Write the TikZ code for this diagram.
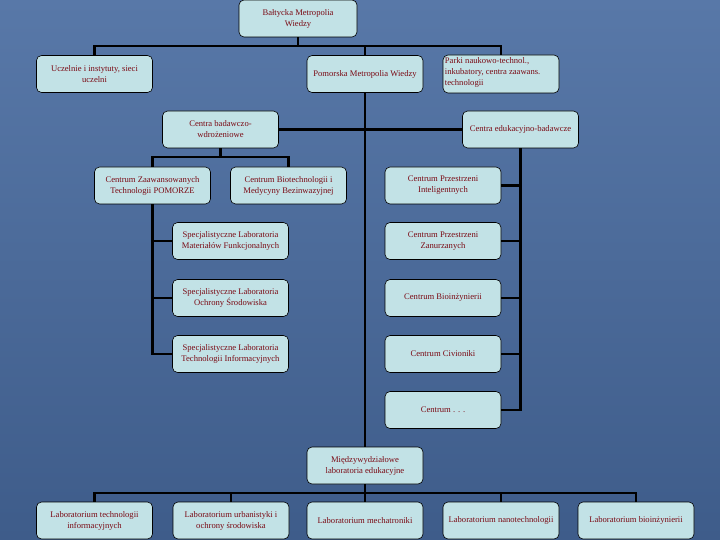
\documentclass[tikz,border=0pt]{standalone}
\usepackage{fontspec}
\setmainfont{Liberation Serif}
\definecolor{bgtop}{HTML}{5878A8}
\definecolor{bgbot}{HTML}{3E5C8A}
\definecolor{boxfill}{HTML}{C2E2E6}
\definecolor{txtred}{HTML}{7A0A14}
\tikzset{
  box/.style={draw=black, line width=0.6pt, rounded corners=5pt, fill=boxfill,
    minimum width=116pt, minimum height=37pt, align=center, inner sep=2pt,
    text=txtred, font=\fontsize{8.6}{11}\selectfont},
  plain/.style={align=left, inner sep=0pt, text=txtred, font=\fontsize{8.6}{11}\selectfont},
  conn/.style={draw=black, line width=2.2pt}
}
\begin{document}
\begin{tikzpicture}[x=1pt,y=-1pt]
\useasboundingbox (0,0) rectangle (720,540);
\shade[top color=bgtop, bottom color=bgbot] (0,0) rectangle (720,540);

% nodes
\node[box, minimum width=118pt] (top) at (298,18.5) {Bałtycka Metropolia\\Wiedzy};
\node[box] (ucz) at (94.5,74) {Uczelnie i instytuty, sieci\\uczelni};
\node[box] (pom) at (365,74) {Pomorska Metropolia Wiedzy};
\node[box, minimum height=38pt] (parki) at (501,74) {};
\node[plain, anchor=north west] (parkitxt) at ([shift={(2,3)}]parki.north west)
  {Parki naukowo-technol.,\\inkubatory, centra zaawans.\\technologii};
\node[box] (cbw) at (220.5,129.5) {Centra badawczo-\\wdrożeniowe};
\node[box] (ceb) at (520.5,129.5) {Centra edukacyjno-badawcze};
\node[box] (cza) at (152.5,185.5) {Centrum Zaawansowanych\\Technologii POMORZE};
\node[box] (cbt) at (288.5,185.5) {Centrum Biotechnologii i\\Medycyny Bezinwazyjnej};
\node[box] (cpi) at (443,185.5) {Centrum Przestrzeni\\Inteligentnych};
\node[box] (sl1) at (230.5,241) {Specjalistyczne Laboratoria\\Materiałów Funkcjonalnych};
\node[box] (cpz) at (443,241) {Centrum Przestrzeni\\Zanurzanych};
\node[box] (sl2) at (230.5,298) {Specjalistyczne Laboratoria\\Ochrony Środowiska};
\node[box] (cbi) at (443,298) {Centrum Bioinżynierii};
\node[box] (sl3) at (230.5,354) {Specjalistyczne Laboratoria\\Technologii Informacyjnych};
\node[box] (cci) at (443,354) {Centrum Civioniki};
\node[box] (cdo) at (443,410) {Centrum . . .};
\node[box] (mdz) at (365,465.5) {Międzywydziałowe\\laboratoria edukacyjne};
\node[box] (l1) at (94.5,520.5) {Laboratorium technologii\\informacyjnych};
\node[box] (l2) at (231,520.5) {Laboratorium urbanistyki i\\ochrony środowiska};
\node[box] (l3) at (365,520.5) {Laboratorium mechatroniki};
\node[box] (l4) at (501,520.5) {Laboratorium nanotechnologii};
\node[box] (l5) at (636,520.5) {Laboratorium bioinżynierii};

% connectors: top level
\draw[conn] (top.south) -- (top.south |- 0,46);
\draw[conn] (ucz.north) |- (parki.north |- 0,46) -- (parki.north);
\draw[conn] (pom.north) -- (pom.north |- 0,46);
% Pomorska trunk
\draw[conn] (pom.south) -- (mdz.north);
\draw[conn] (cbw.east) -- (ceb.west);
% badawczo-wdrozeniowe
\draw[conn] (cbw.south) -- (cbw.south |- 0,157);
\draw[conn] (cza.north) |- (cbt.north |- 0,157) -- (cbt.north);
% left spine
\draw[conn] (cza.south) |- (sl3.west);
\draw[conn] (sl1.west) -- (sl1.west -| cza.south);
\draw[conn] (sl2.west) -- (sl2.west -| cza.south);
% right spine
\draw[conn] (ceb.south) |- (cdo.east);
\draw[conn] (cpi.east) -- (cpi.east -| ceb.south);
\draw[conn] (cpz.east) -- (cpz.east -| ceb.south);
\draw[conn] (cbi.east) -- (cbi.east -| ceb.south);
\draw[conn] (cci.east) -- (cci.east -| ceb.south);
% bottom bus
\draw[conn] (mdz.south) -- (mdz.south |- 0,493);
\draw[conn] (l1.north) |- (l5.north |- 0,493) -- (l5.north);
\draw[conn] (l2.north) -- (l2.north |- 0,493);
\draw[conn] (l3.north) -- (l3.north |- 0,493);
\draw[conn] (l4.north) -- (l4.north |- 0,493);
\end{tikzpicture}
\end{document}
